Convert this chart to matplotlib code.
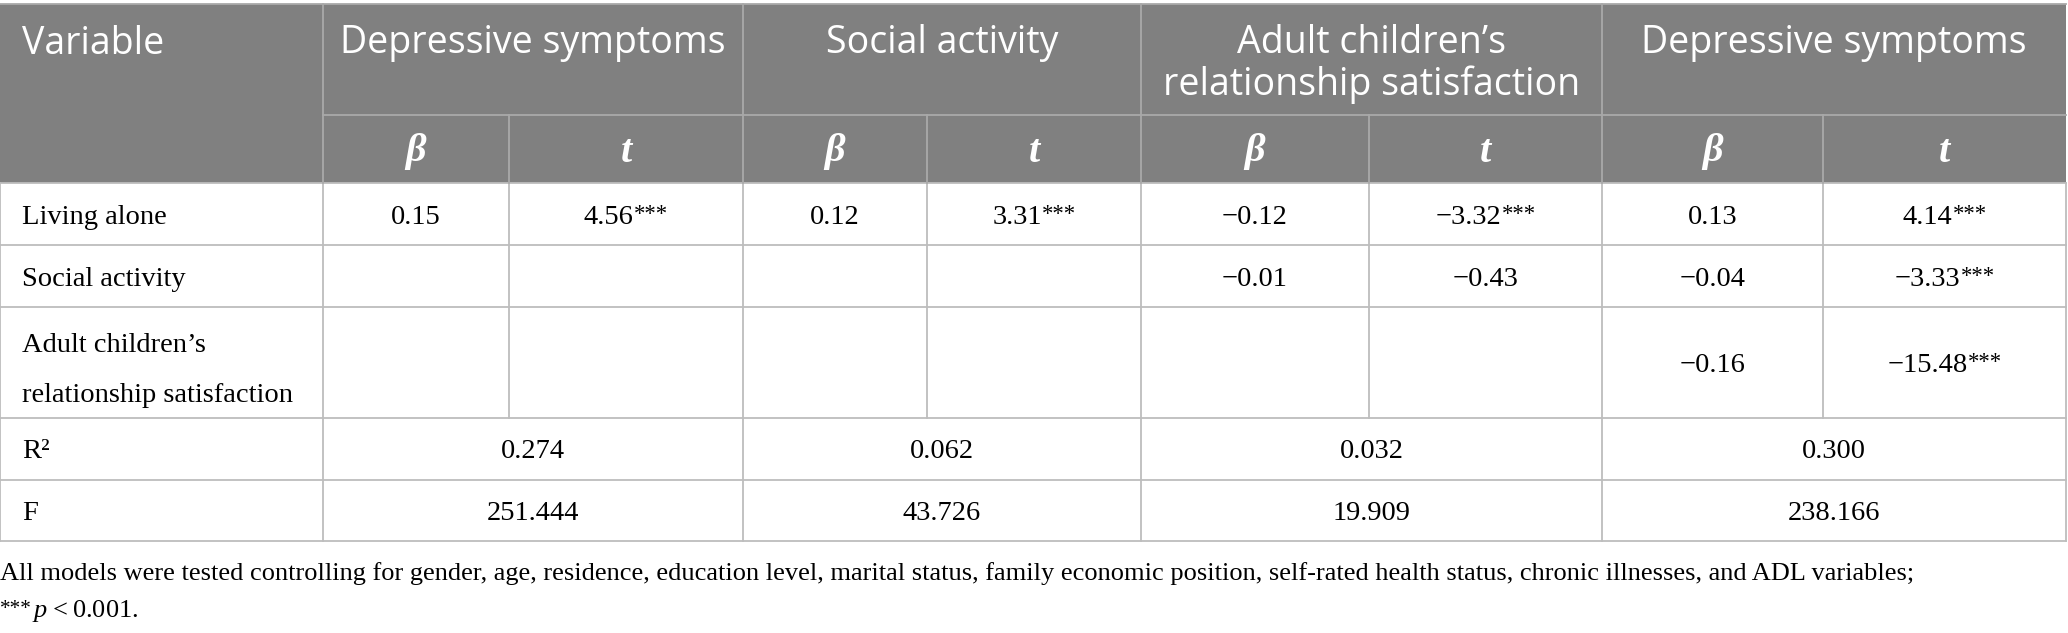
import matplotlib
matplotlib.use("Agg")
import matplotlib.pyplot as plt
from matplotlib.patches import Rectangle

plt.rcParams['mathtext.fontset'] = 'custom'
plt.rcParams['mathtext.rm'] = 'Liberation Serif'
plt.rcParams['mathtext.it'] = 'Liberation Serif:italic'

# table content
models = ["Depressive symptoms", "Social activity",
          "Adult children\u2019s\nrelationship satisfaction", "Depressive symptoms"]
row_labels = ["Living alone", "Social activity",
              "Adult children\u2019s\nrelationship satisfaction"]
beta = [["0.15", "", "", ""],
        ["0.12", "", "", ""],
        ["\u22120.12", "\u22120.01", "", ""],
        ["0.13", "\u22120.04", "\u22120.16", ""]]
tval = [["4.56***", "", ""],
        ["3.31***", "", ""],
        ["\u22123.32***", "\u22120.43", ""],
        ["4.14***", "\u22123.33***", "\u221215.48***"]]
r2 = ["0.274", "0.062", "0.032", "0.300"]
f_stat = ["251.444", "43.726", "19.909", "238.166"]
note1 = ("All models were tested controlling for gender, age, residence, education level, "
         "marital status, family economic position, self-rated health status, chronic illnesses, "
         "and ADL variables;")
note2 = "$p$\u2009<\u20090.001."

# layout in pixels
W, H = 2068, 633
xs = [0, 323, 509, 743, 927, 1141, 1369, 1602, 1823, 2066]
ys = [4, 115, 183, 245, 307, 418, 480, 541]
head_bg = '#808080'
head_ln = '#a9a9a9'
body_ln = '#bdbdbd'
sans = ['Open Sans', 'DejaVu Sans']
serif = ['Liberation Serif', 'DejaVu Serif']
bs = 20.5
star_scale = 0.8

fig = plt.figure(figsize=(W / 100, H / 100), dpi=100)
ax = fig.add_axes([0, 0, 1, 1])
ax.set_xlim(0, W)
ax.set_ylim(H, 0)
ax.axis('off')
renderer = fig.canvas.get_renderer()


def starred(x, y, s, ha='center', size=bs):
    # number with small raised asterisks; whole string centred like the reference
    base = s.rstrip('*')
    n = len(s) - len(base)
    t = ax.text(x, y, base, fontsize=size, family=serif, va='center_baseline', ha=ha)
    if n:
        st = ax.annotate('*' * n, xy=(1, 1.02), xycoords=t, xytext=(0.3, 0),
                         textcoords='offset points', va='top', ha='left',
                         fontsize=size * star_scale, family=serif)
        if ha == 'center':
            w = st.get_window_extent(renderer).width
            t.set_x(x - w / 2)
    return t


ax.add_patch(Rectangle((xs[0], ys[0]), xs[-1] - xs[0], ys[2] - ys[0],
                       facecolor=head_bg, edgecolor='none', zorder=0))

# header grid
lw = 1.3
ax.plot([xs[0], xs[-1]], [ys[0], ys[0]], color=head_ln, lw=lw)
ax.plot([xs[1], xs[-1]], [ys[1], ys[1]], color=head_ln, lw=lw)
for i in [1, 3, 5, 7]:
    ax.plot([xs[i], xs[i]], [ys[0], ys[2]], color=head_ln, lw=lw)
for i in [2, 4, 6, 8]:
    ax.plot([xs[i], xs[i]], [ys[1], ys[2]], color=head_ln, lw=lw)

# body grid
for y in ys[2:]:
    ax.plot([xs[0], xs[-1]], [y, y], color=body_ln, lw=lw, zorder=1)
for x in [xs[0], xs[1], xs[3], xs[5], xs[7], xs[-1]]:
    ax.plot([x, x], [ys[2], ys[-1]], color=body_ln, lw=lw, zorder=1)
for i in [2, 4, 6, 8]:
    ax.plot([xs[i], xs[i]], [ys[2], ys[5]], color=body_ln, lw=lw, zorder=1)

# header text
hs = 27
ax.text(22, 44, "Variable", color='white', fontsize=hs, family=sans, va='center', ha='left')
for m, name in enumerate(models):
    cx = (xs[1 + 2 * m] + xs[3 + 2 * m]) / 2
    for k, ln in enumerate(name.split("\n")):
        ax.text(cx, 43 + k * 42, ln, color='white', fontsize=hs, family=sans,
                va='center', ha='center')
    ax.text((xs[1 + 2 * m] + xs[2 + 2 * m]) / 2, 152, "\u03b2", color='white',
            fontsize=29, family=serif, style='italic', weight='bold', va='center', ha='center')
    ax.text((xs[2 + 2 * m] + xs[3 + 2 * m]) / 2, 152, "t", color='white',
            fontsize=29, family=serif, style='italic', weight='bold', va='center', ha='center')

# body text
row_centers = [(ys[2] + ys[3]) / 2, (ys[3] + ys[4]) / 2, (ys[4] + ys[5]) / 2]
ax.text(22, row_centers[0], row_labels[0], fontsize=bs, family=serif, va='center_baseline')
ax.text(22, row_centers[1], row_labels[1], fontsize=bs, family=serif, va='center_baseline')
for k, ln in enumerate(row_labels[2].split("\n")):
    ax.text(22, 342 + k * 50, ln, fontsize=bs, family=serif, va='center_baseline')

for m in range(4):
    bx = (xs[1 + 2 * m] + xs[2 + 2 * m]) / 2
    tx = (xs[2 + 2 * m] + xs[3 + 2 * m]) / 2
    for r in range(3):
        if beta[m][r]:
            starred(bx, row_centers[r], beta[m][r])
        if tval[m][r]:
            starred(tx, row_centers[r], tval[m][r])
    gx = (xs[1 + 2 * m] + xs[3 + 2 * m]) / 2
    starred(gx, (ys[5] + ys[6]) / 2, r2[m])
    starred(gx, (ys[6] + ys[7]) / 2, f_stat[m])

ax.text(22, (ys[5] + ys[6]) / 2, "R\u00b2", fontsize=bs, family=serif, va='center_baseline')
ax.text(22, (ys[6] + ys[7]) / 2, "F", fontsize=bs, family=serif, va='center_baseline')

# footnote
fs = 19
ax.text(0, 571, note1, fontsize=fs, family=serif, va='center_baseline')
st = ax.text(0, 600, "***", fontsize=fs * star_scale, family=serif, va='top')
sw = st.get_window_extent(renderer).width
ax.text(sw, 608, note2, fontsize=fs, family=serif, va='center_baseline')

fig.savefig("out.png", dpi=100)
